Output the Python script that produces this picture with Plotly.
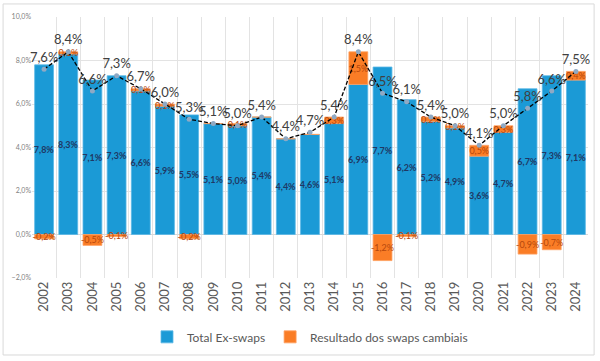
import plotly.graph_objects as go

years = [str(y) for y in range(2002, 2025)]
ex_swaps = [7.8, 8.3, 7.1, 7.3, 6.6, 5.9, 5.5, 5.1, 5.0, 5.4, 4.4, 4.6, 5.1, 6.9, 7.7, 6.2, 5.2, 4.9, 3.6, 4.7, 6.7, 7.3, 7.1]
swaps = [-0.2, 0.1, -0.5, -0.1, 0.1, 0.1, -0.2, 0.0, 0.1, 0.0, 0.0, 0.0, 0.3, 1.5, -1.2, -0.1, 0.2, 0.1, 0.5, 0.3, -0.9, -0.7, 0.4]
total = [7.6, 8.4, 6.6, 7.3, 6.7, 6.0, 5.3, 5.1, 5.0, 5.4, 4.4, 4.7, 5.4, 8.4, 6.5, 6.1, 5.4, 5.0, 4.1, 5.0, 5.8, 6.6, 7.5]

FONT = "Lato"

def fmt(v):
    return f"{v:.1f}".replace(".", ",") + "%"

fig = go.Figure()
fig.add_trace(go.Bar(
    x=years, y=ex_swaps, name="Total Ex-swaps",
    marker=dict(color="#1B9AD6", line=dict(color="#5BB8E6", width=0.8)),
    text=[fmt(v) for v in ex_swaps], textposition="inside", insidetextanchor="middle",
    constraintext="none", textangle=0,
    textfont=dict(family=FONT, size=9, color="#1F3864", weight="bold"),
))
fig.add_trace(go.Bar(
    x=years, y=swaps, name="Resultado dos swaps cambiais",
    marker=dict(color="#FA7D26", line=dict(color="#FFA060", width=0.8)),
    text=[fmt(v) for v in swaps], textposition="inside", insidetextanchor="middle",
    constraintext="none", textangle=0,
    textfont=dict(family=FONT, size=9, color="#B5470C"),
))
fig.add_trace(go.Scatter(
    x=years, y=total, mode="lines+markers+text", showlegend=False,
    line=dict(color="black", width=1.3, dash="4px,2px"),
    marker=dict(color="#8FA9C4", size=5),
    text=[fmt(v) for v in total], textposition="top center",
    textfont=dict(family=FONT, size=13, color="#404040"),
    cliponaxis=False,
))

fig.update_layout(
    width=600, height=361,
    margin=dict(l=32, r=12, t=17, b=83, autoexpand=False),
    barmode="relative", bargap=0.22,
    separators=",.",
    plot_bgcolor="white", paper_bgcolor="white",
    font=dict(family=FONT, color="#595959"),
    legend=dict(orientation="h", x=0.5, xanchor="center", y=-0.17, yanchor="top",
                font=dict(size=12, color="#595959"), itemwidth=30, traceorder="normal"),
    xaxis=dict(type="category", range=[-0.5, len(years) - 0.5], tickson="boundaries",
               showgrid=True, gridcolor="#E3E3E3",
               tickangle=-90, ticks="", tickfont=dict(size=13, color="#595959"),
               showline=False, zeroline=False, automargin=False),
    yaxis=dict(range=[-2, 10], dtick=2, tickformat=".1f", ticksuffix="%",
               showgrid=True, gridcolor="#E3E3E3", zeroline=True, zerolinecolor="#D9D9D9",
               zerolinewidth=1, tickfont=dict(size=7, color="#7F7F7F"), ticks="",
               automargin=False),
    shapes=[dict(type="rect", xref="paper", yref="paper",
                 x0=-0.052, x1=1.011, y0=-0.295, y1=1.05,
                 line=dict(color="#D9D9D9", width=1))],
)

fig.write_html("out.html", config={"displayModeBar": False},
               post_script="document.body.style.margin='0';document.body.style.overflow='hidden';")
